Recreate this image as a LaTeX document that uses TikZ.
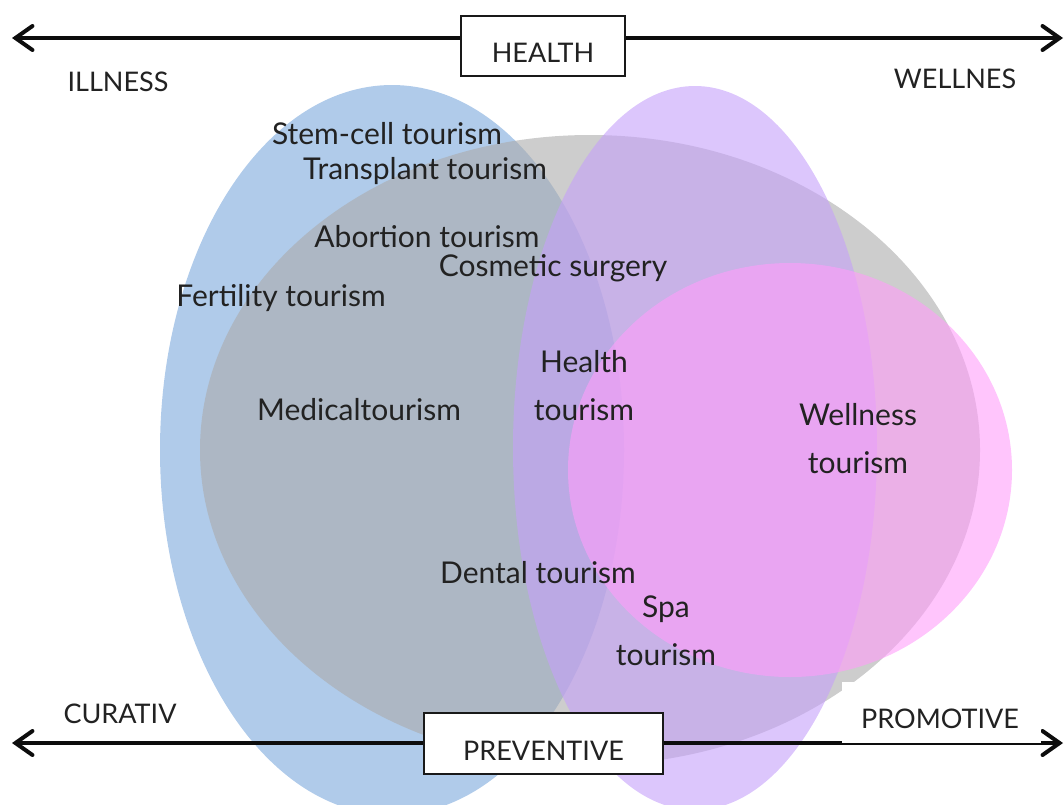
\documentclass[tikz,border=0pt]{standalone}
\usepackage{fontspec}
\setmainfont{Lato}
\usetikzlibrary{arrows.meta}
\definecolor{cureblue}{RGB}{176,203,234}
\definecolor{healthgray}{RGB}{171,171,171}
\definecolor{wellviolet}{RGB}{197,160,250}
\definecolor{spapink}{RGB}{255,158,250}
\definecolor{ink}{RGB}{34,34,34}
\begin{document}
\begin{tikzpicture}[x=1pt,y=-1pt,
  lbl/.style={font=\fontsize{27}{48}\selectfont, text=ink, inner sep=0pt, align=center},
  kind/.style={lbl, font=\fontsize{30}{48}\selectfont},
  axisline/.style={line width=4pt, draw=black!95,
    {Straight Barb[length=17pt,width=24pt,line cap=round]}-{Straight Barb[length=17pt,width=24pt,line cap=round]}},
  tagbox/.style={draw=black!90, line width=2pt, fill=white, inner sep=0pt,
    font=\fontsize{27}{30}\selectfont, text=ink, text height=33pt, text depth=0pt},
  zone/.style={draw=none}
]
\useasboundingbox (0,0) rectangle (1064,804);
\clip (0,0) rectangle (1064,804);

% overlapping tourism domains
\fill[zone, cureblue] (392,450) ellipse [x radius=232, y radius=365];
\fill[zone, healthgray, fill opacity=0.6] (590,450) ellipse [x radius=390, y radius=315];
\fill[zone, wellviolet, fill opacity=0.6] (695,448) ellipse [x radius=182, y radius=362];
\fill[zone, spapink, fill opacity=0.6] (790,470) ellipse [x radius=222, y radius=207];

% axes
\coordinate (illEnd) at (12,38);
\coordinate (wellEnd) at (1063,38);
\coordinate (curEnd) at (12,743);
\coordinate (proEnd) at (1063,743);
\draw[axisline] (illEnd) -- (wellEnd);
\draw[axisline] (curEnd) -- (proEnd);

% white patch behind the PROMOTIVE caption
\fill[white] (842,682) rectangle (1041,743);

\node[tagbox, minimum width=164, minimum height=60] (health) at (543,46) {HEALTH};
\node[tagbox, minimum width=239, minimum height=61] (preventive) at (543.5,743.5) {PREVENTIVE};

\node[lbl] (illness) at (118,82) {ILLNESS};
\node[lbl] (wellnes) at (955,79) {WELLNES};
\node[lbl] (curativ) at (120,714) {CURATIV};
\node[lbl] (promotive) at (940,719) {PROMOTIVE};

\node[kind] (stemcell) at (387,134) {Stem-cell tourism};
\node[kind] (transplant) at (425,171) {Transplant tourism};
\node[kind] (abortion) at (427,237) {Abortion tourism};
\node[kind] (cosmetic) at (553,268) {Cosmetic surgery};
\node[kind] (fertility) at (281,298) {Fertility tourism};
\node[kind] (medical) at (359,410) {Medicaltourism};
\node[kind] (healthT) at (584,386) {Health\\tourism};
\node[kind] (wellness) at (858,439) {Wellness\\tourism};
\node[kind] (dental) at (538,573) {Dental tourism};
\node[kind] (spa) at (666,631) {Spa\\tourism};
\end{tikzpicture}
\end{document}
